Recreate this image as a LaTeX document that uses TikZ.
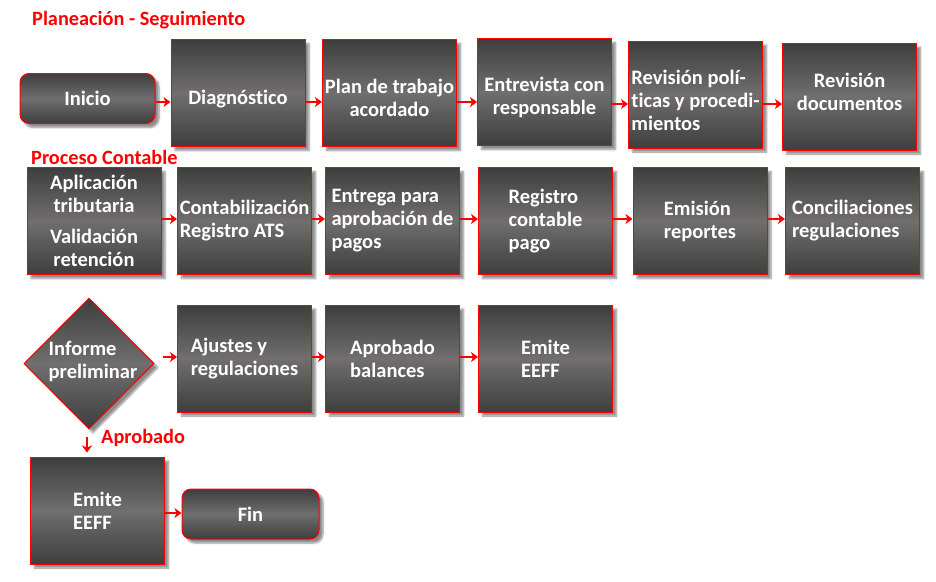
\documentclass[tikz,border=0pt]{standalone}
\usepackage{fontspec}
\setmainfont[Ligatures=NoCommon]{Carlito}
\usetikzlibrary{shapes.geometric,shadows.blur,arrows.meta}
\definecolor{boxred}{HTML}{FF0000}
\definecolor{gdark}{HTML}{3E3E3E}
\definecolor{glight}{HTML}{706E6F}
\tikzset{
  tx/.style={text=white, font=\bfseries\fontsize{20.5}{23}\selectfont, align=left, inner sep=0pt},
  base/.style={draw=boxred, line width=1pt, top color=gdark, bottom color=gdark, middle color=glight,
    tx,
    blur shadow={shadow xshift=4pt, shadow yshift=-4pt, shadow blur steps=6, shadow opacity=45}},
  box/.style={base, rectangle, minimum width=134pt, minimum height=107pt, inner sep=0pt},
  term/.style={base, rectangle, rounded corners=9pt, minimum width=135pt, minimum height=50pt, inner sep=0pt},
  dec/.style={base, diamond, minimum width=130pt, minimum height=131pt, inner sep=0pt},
  arr/.style={draw=boxred, line width=2.5pt, -{Stealth[length=7pt,width=10pt,inset=2pt]}},
  ttl/.style={text=boxred, font=\bfseries\fontsize{20.3}{22}\selectfont, anchor=west, inner sep=0pt},
}
\begin{document}
\begin{tikzpicture}[x=1pt,y=-1pt]
\useasboundingbox (0,0) rectangle (936,581);
% titles
\node[ttl] (t1) at (32,20) {Planeación - Seguimiento};
\node[ttl] (t2) at (31,157) {Proceso Contable};
\node[ttl] (t3) at (101,438) {Aprobado};
% row 1
\node[term] (inicio) at (87.5,98.5) {Inicio};
\node[box, label={[tx, yshift=-6pt]center:Diagnóstico}] (diag) at (238,93) {};
\node[box, label={[tx, align=center, yshift=-5pt]center:{Plan de trabajo\\acordado}}] (plan) at (389.5,93) {};
\node[box, label={[tx, align=center, yshift=-5pt]center:{Entrevista con\\responsable}}] (entre) at (544.5,92) {};
\node[box, label={[tx, yshift=-6pt]center:{Revisión polí-\\ticas y procedi-\\mientos}}] (revpol) at (695.5,94.5) {};
\node[box, label={[tx, align=center, yshift=5pt]center:{Revisión\\documentos}}] (revdoc) at (849.5,96.5) {};
% row 2
\node[box, align=center] (aplic) at (94,221) {Aplicación\\tributaria\\[8pt]Validación\\retención};
\node[box] (contab) at (244.5,221) {Contabilización\\Registro ATS};
\node[box] (entrega) at (392.5,221) {Entrega para\\aprobación de\\pagos};
\node[box] (regcont) at (545.5,221) {Registro\\contable\\pago};
\node[box] (emision) at (700,221) {Emisión\\reportes};
\node[box] (concil) at (852.5,221) {Conciliaciones\\regulaciones};
% row 3
\node[dec, label={[tx, xshift=4pt, yshift=2pt]center:{Informe\\preliminar}}] (inf) at (89,363.5) {};
\node[box] (ajust) at (244.5,358.5) {Ajustes y\\regulaciones};
\node[box] (aprob) at (392.5,358.5) {Aprobado\\balances};
\node[box] (emite1) at (545.5,358.5) {Emite\\EEFF};
% row 4
\node[box] (emite2) at (97.5,510.5) {Emite\\EEFF};
\node[term, minimum width=137pt] (fin) at (250.5,514) {Fin};
% arrow levels
\coordinate (L1a) at (0,102);
\coordinate (L1b) at (0,104);
\coordinate (L2) at (0,219);
\coordinate (L3) at (0,357);
\coordinate (L4) at (0,513);
% arrows row 1
\draw[arr] (inicio.east |- L1a) -- (diag.west |- L1a);
\draw[arr] (diag.east |- L1a) -- (plan.west |- L1a);
\draw[arr] (plan.east |- L1a) -- (entre.west |- L1a);
\draw[arr] (entre.east |- L1b) -- (revpol.west |- L1b);
\draw[arr] (revpol.east |- L1b) -- (revdoc.west |- L1b);
% arrows row 2
\draw[arr] (aplic.east |- L2) -- (contab.west |- L2);
\draw[arr] (contab.east |- L2) -- (entrega.west |- L2);
\draw[arr] (entrega.east |- L2) -- (regcont.west |- L2);
\draw[arr] (regcont.east |- L2) -- (emision.west |- L2);
\draw[arr] (emision.east |- L2) -- (concil.west |- L2);
% arrows row 3
\draw[arr, shorten <=8pt] (inf.east |- L3) -- (ajust.west |- L3);
\draw[arr] (ajust.east |- L3) -- (aprob.west |- L3);
\draw[arr] (aprob.east |- L3) -- (emite1.west |- L3);
% down arrow
\draw[arr, shorten <=7pt, shorten >=4pt] ([xshift=-2pt]inf.south) -- ([xshift=-2pt]inf.south |- emite2.north);
% row 4
\draw[arr] (emite2.east |- L4) -- (fin.west |- L4);
\end{tikzpicture}
\end{document}
